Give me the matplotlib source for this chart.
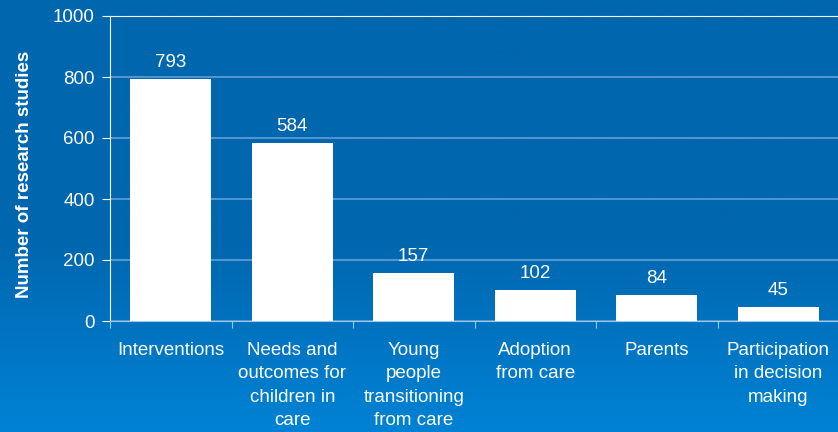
import numpy as np
import matplotlib.pyplot as plt

categories = ['Interventions', 'Needs and\noutcomes for\nchildren in\ncare',
              'Young\npeople\ntransitioning\nfrom care', 'Adoption\nfrom care',
              'Parents', 'Participation\nin decision\nmaking']
studies = [793, 584, 157, 102, 84, 45]

plt.rcParams['font.family'] = ['Liberation Sans', 'DejaVu Sans']

fig = plt.figure(figsize=(8.38, 4.32), dpi=100)

# gradient background
bg = fig.add_axes([0, 0, 1, 1], zorder=0)
grad = np.linspace(0, 1, 256).reshape(-1, 1)
top = np.array([0x00, 0x66, 0xae]) / 255
bot = np.array([0x00, 0x82, 0xd4]) / 255
w = np.clip((grad - 0.55) / 0.45, 0, 1)
img = top + (bot - top) * w[..., None]
bg.imshow(img, aspect='auto', extent=[0, 1, 0, 1], origin='upper')
bg.set_axis_off()

ax = fig.add_axes([110 / 838, 1 - 321 / 432, 729 / 838, 305 / 432], zorder=1)
ax.patch.set_alpha(0)

x = np.arange(len(categories))
ax.bar(x, studies, width=0.67, color='white', zorder=3)
for xi, v in zip(x, studies):
    ax.annotate(str(v), (xi, v), xytext=(0, 6), textcoords='offset points',
                ha='center', va='bottom', color='white', fontsize=13.5)

ax.set_xlim(-0.5, len(categories) - 0.5)
ax.set_ylim(0, 1000)
ax.set_yticks([0, 200, 400, 600, 800, 1000])
ax.yaxis.grid(True, color='#5f9fd6', linewidth=1.2, zorder=0)
ax.set_axisbelow(True)

ax.set_xticks(np.arange(len(categories) + 1) - 0.5)
ax.set_xticklabels([])
ax.set_xticks(x, minor=True)
ax.set_xticklabels(categories, minor=True, color='white', fontsize=13.5,
                   linespacing=1.5)
ax.tick_params(axis='x', which='minor', length=0, pad=15)
ax.tick_params(axis='x', which='major', length=5, color='#a0c8ea', direction='out')
ax.tick_params(axis='y', length=6, color='white', labelcolor='white',
               labelsize=13.5, pad=5)

ax.spines['right'].set_visible(False)
ax.spines['top'].set_color('white')
ax.spines['left'].set_color('white')
ax.spines['bottom'].set_color('#a0c8ea')

ax.set_ylabel('Number of research studies', color='white', fontsize=13.5,
              fontweight='bold')
ax.yaxis.set_label_coords(-0.105, 0.48)

fig.savefig('out.png', dpi=100)
